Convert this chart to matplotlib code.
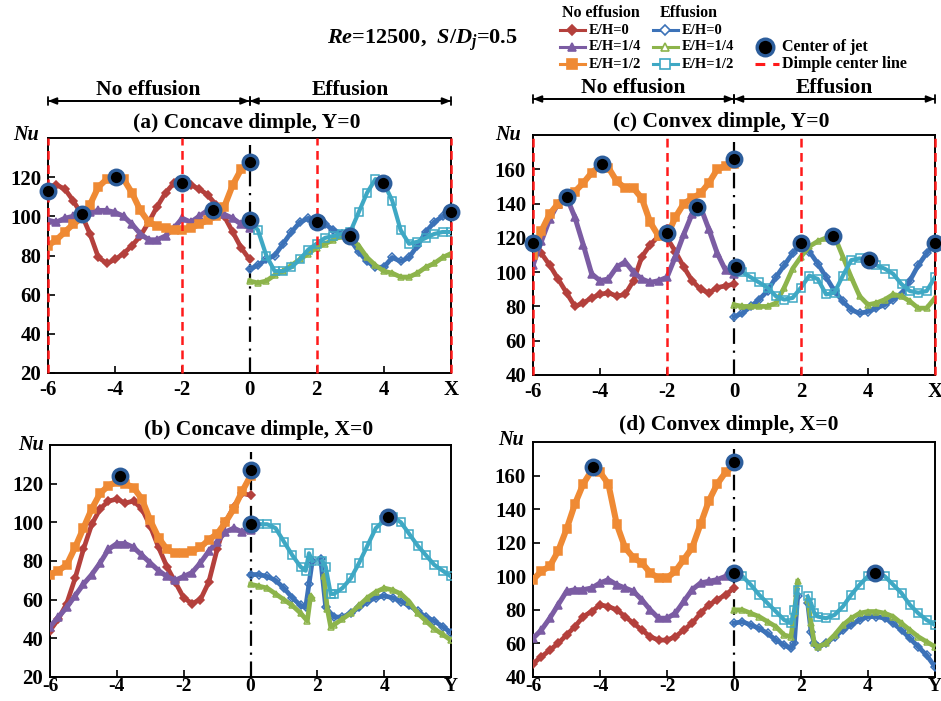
import numpy as np
import matplotlib.pyplot as plt

plt.rcParams["font.family"] = ["Liberation Serif", "DejaVu Serif"]
plt.rcParams["font.weight"] = "bold"
plt.rcParams["mathtext.fontset"] = "custom"
plt.rcParams["mathtext.rm"] = "Liberation Serif:bold"
plt.rcParams["mathtext.it"] = "Liberation Serif:italic:bold"
plt.rcParams["mathtext.bf"] = "Liberation Serif:bold"

W, H = 941, 701
nan = np.nan

# sampling positions along the dimple centre lines
x_ne = np.arange(-6, 0.01, 0.25)   # no-effusion half
x_ef = np.arange(0, 6.01, 0.25)    # effusion half (full rows)

# ---- (a) concave dimple, Y=0 ----
a_ne_0 = [115, 116, 114, 108, 101, 91, 79, 76, 78, 81, 85, 90, 97, 105, 112, 117,
          118, 116, 114, 111, 106, 100, 92, 84, 78]
a_ne_14 = [98, 97, 99, 100, 101, 102, 103, 103, 102, 100, 96, 91, 88, 88, 90, 94,
           99, 97, 100, 103, 103, 101, 99, 96, 94]
a_ne_12 = [85, 88, 92, 96, 99, 106, 115, 119, 120, 119, 112, 103, 97, 95, 94, 93,
           93, 94, 96, 98, 100, 105, 116, 124, 127]
a_ef_0 = [73, 75, 78, 80, 86, 92, 97, 99, 98, 96, 93, 91, 88, 82, 77, 74, 74, 79,
          77, 79, 85, 92, 97, 100, 102]
a_ef_14 = [67, 66, 67, 70, 72, 75, 78, 81, 84, 86, 88, 90, 89, 85, 79, 75, 72, 71,
           69, 69, 71, 74, 76, 79, 81]
a_ef_12 = [98, 93, 80, 72, 72, 74, 78, 83, 86, 89, 90, 91, 92, 102, 112, 119, 117,
           108, 93, 86, 87, 89, 91, 92, 92]
a_jet_x = [-6, -5, -3.97, -2, -1.1, 0, 0, 2.02, 3.0, 3.97, 6]
a_jet_y = [113, 101, 120, 117, 103, 128, 98, 97, 90, 117, 102]

# ---- (c) convex dimple, Y=0 ----
c_ne_0 = [116, 111, 104, 96, 88, 80, 82, 85, 87, 88, 86, 87, 95, 109, 116, 121,
          120, 112, 103, 95, 90, 88, 91, 92, 93]
c_ne_14 = [104, 118, 131, 140, 144, 132, 116, 99, 95, 96, 103, 106, 100, 96, 94,
           95, 97, 109, 122, 134, 138, 125, 111, 101, 99]
c_ne_12 = [110, 124, 134, 140, 144, 147, 152, 158, 162, 161, 153, 149, 149, 143,
           129, 121, 121, 132, 140, 143, 146, 152, 160, 162, 163]
c_ef_0 = [74, 76, 80, 84, 89, 97, 104, 111, 116, 112, 105, 97, 89, 83, 78, 76, 77,
          79, 81, 84, 87, 95, 104, 111, 117]
c_ef_14 = [81, 80, 80, 80, 80, 82, 91, 102, 109, 115, 118, 120, 121, 109, 97, 86,
           81, 82, 84, 87, 86, 83, 79, 79, 85]
c_ef_12 = [103, 100, 97, 94, 91, 86, 84, 85, 91, 98, 96, 87, 88, 98, 107, 108, 107,
           104, 102, 99, 93, 89, 88, 89, 97]
c_jet_x = [-6, -5, -3.94, -2, -1.09, 0, 0.07, 2, 2.96, 4.04, 6]
c_jet_y = [117, 144, 163, 123, 138, 166, 103, 117, 121, 107, 117]

# ---- (b) concave dimple, X=0 ----
b_ne_0 = [44, 50, 58, 71, 86, 99, 107, 111, 112, 110, 111, 107, 98, 87, 77, 69,
          61, 58, 60, 69, 86, 100, 108, 115, 114]
b_ne_14 = [46, 51, 56, 62, 68, 73, 79, 86, 89, 89, 87, 83, 79, 75, 72, 70, 72, 74,
           79, 85, 90, 95, 97, 95, 96]
b_ne_12 = [73, 75, 78, 87, 97, 107, 115, 119, 121, 120, 118, 112, 101, 92, 86, 84,
           84, 85, 87, 91, 94, 100, 107, 116, 124]
b_ef_0_x = [0, 0.25, 0.5, 0.75, 1.0, 1.25, 1.5, 1.65, 1.75, 1.85, 2.0, 2.1, 2.25,
            2.5, 2.75, 3.0, 3.25, 3.5, 3.75, 4.0, 4.25, 4.5, 4.75, 5.0, 5.25, 5.5,
            5.75, 6.0]
b_ef_0 = [73, 73, 72, 70, 66, 61, 57, 56, 68, 80, nan, 81, 56, 51, 51, 53, 56, 59,
          61, 62, 61, 59, 57, 54, 51, 49, 46, 43]
b_ef_14_x = [0, 0.25, 0.5, 0.75, 1.0, 1.25, 1.5, 1.7, 1.8, 1.85, 2.0, 2.2, 2.3,
             2.4, 2.5, 2.75, 3.0, 3.25, 3.5, 3.75, 4.0, 4.25, 4.5, 4.75, 5.0, 5.25,
             5.5, 5.75, 6.0]
b_ef_14 = [68, 67, 66, 63, 60, 57, 53, 49, 62, 61, nan, 72, 55, 46, 47, 50, 53, 57,
           61, 64, 66, 65, 63, 59, 53, 49, 45, 42, 39]
b_ef_12_x = [0, 0.25, 0.5, 0.75, 1.0, 1.25, 1.5, 1.65, 1.75, 1.85, 2.0, 2.15, 2.25,
             2.4, 2.5, 2.75, 3.0, 3.25, 3.5, 3.75, 4.0, 4.25, 4.5, 4.75, 5.0, 5.25,
             5.5, 5.75, 6.0]
b_ef_12 = [99, 99, 99, 97, 90, 83, 77, 75, 84, 80, nan, 80, 77, 63, 63, 66, 71, 79,
           88, 97, 101, 103, 100, 94, 88, 83, 78, 75, 72]
b_jet_x = [-3.9, 0, 0, 4.1]
b_jet_y = [124, 127, 99, 103]

# ---- (d) convex dimple, X=0 ----
d_ne_0 = [48, 52, 56, 60, 65, 70, 76, 79, 83, 82, 80, 76, 72, 68, 64, 62, 62, 64,
          68, 72, 78, 83, 86, 89, 93]
d_ne_14 = [63, 68, 75, 83, 91, 92, 92, 93, 96, 98, 95, 93, 91, 86, 80, 75, 75, 78,
           85, 92, 96, 97, 98, 100, 102]
d_ne_12 = [98, 103, 106, 115, 128, 143, 155, 163, 162, 155, 131, 117, 111, 108,
           102, 99, 99, 103, 110, 117, 131, 145, 155, 162, 166]
d_ef_x = [0, 0.25, 0.5, 0.75, 1.0, 1.25, 1.5, 1.7, 1.8, 1.9, 2.05, 2.2, 2.3, 2.4,
          2.5, 2.75, 3.0, 3.25, 3.5, 3.75, 4.0, 4.25, 4.5, 4.75, 5.0, 5.25, 5.5,
          5.75, 6.0]
d_ef_0 = [72, 73, 71, 69, 66, 62, 59, 57, 60, 88, nan, 84, 67, 60, 58, 60, 64, 68,
          71, 74, 76, 76, 75, 72, 68, 63, 58, 53, 46]
d_ef_14 = [80, 80, 78, 76, 73, 70, 65, 64, 78, 97, nan, 86, 72, 60, 58, 60, 65, 71,
           75, 78, 79, 79, 78, 76, 72, 68, 64, 61, 58]
d_ef_12 = [102, 100, 95, 89, 84, 79, 74, 72, 80, 92, nan, 88, 84, 78, 76, 75, 77,
           82, 89, 95, 100, 102, 100, 95, 90, 83, 78, 74, 71]
d_jet_x = [-4.2, 0, 0, 4.2]
d_jet_y = [165, 168, 102, 102]

RED = "#b4403c"
PURPLE = "#7b5ca3"
ORANGE = "#ef8a34"
BLUE = "#3c72b8"
GREEN = "#8db44b"
CYAN = "#3ea8c4"
JET_EDGE = "#2d5e9c"

# colour, marker, filled, marker size, line width
STYLE = {
    "ne0": (RED, "D", True, 4.5, 3.4),
    "ne14": (PURPLE, "^", True, 5.5, 3.6),
    "ne12": (ORANGE, "s", True, 6.0, 4.4),
    "ef0": (BLUE, "D", False, 4.5, 3.4),
    "ef14": (GREEN, "^", False, 5.0, 3.4),
    "ef12": (CYAN, "s", False, 6.0, 3.0),
}


def px_axes(left, top, right, bottom):
    return [left / W, 1 - bottom / H, (right - left) / W, (bottom - top) / H]


def draw_panel(ax, curves, jets, ylim, last_label, dimple, xpad=5, xsize=15):
    for key, x, y in curves:
        color, marker, filled, ms, lw = STYLE[key]
        ax.plot(x, y, color=color, lw=lw, marker=marker, ms=ms,
                mfc=color if filled else "none", mec=color, mew=1.1, zorder=3)
    ax.plot(jets[0], jets[1], "o", ms=10.5, mfc="black", mec=JET_EDGE, mew=2.4,
            zorder=6, clip_on=False)
    if dimple:
        for xv in (-6, -2, 2, 6):
            ax.axvline(xv, color="#ff1a1a", lw=1.8, ls=(0, (3.5, 2.2)), zorder=4,
                       clip_on=False)
    ax.axvline(0, ymax=0.97, color="black", lw=1.6,
               ls=(0, (7, 3, 1, 3)), zorder=2.6)
    ax.set_xlim(-6, 6)
    ax.set_ylim(*ylim)
    ax.set_xticks([-6, -4, -2, 0, 2, 4, 6])
    ax.set_xticklabels(["-6", "-4", "-2", "0", "2", "4", last_label])
    ax.set_yticks(np.arange(ylim[0], ylim[1], 20))
    ax.tick_params(direction="in", length=5, width=1.2, labelsize=15, pad=5)
    ax.tick_params(axis="x", pad=xpad, labelsize=xsize)
    for sp in ax.spines.values():
        sp.set_linewidth(1.4)


def span_arrows(ax, y_arrow, y_text):
    for x0, x1, label in ((-6, 0, "No effusion"), (0, 6, "Effusion")):
        ax.annotate("", xy=(x1, y_arrow), xytext=(x0, y_arrow),
                    xycoords=("data", "axes fraction"),
                    textcoords=("data", "axes fraction"),
                    arrowprops=dict(arrowstyle="<|-|>,head_length=0.5,head_width=0.2",
                                    color="black", lw=1.3, shrinkA=0, shrinkB=0))
        ax.annotate("", xy=(x1, y_arrow), xytext=(x0, y_arrow),
                    xycoords=("data", "axes fraction"),
                    textcoords=("data", "axes fraction"),
                    arrowprops=dict(arrowstyle="|-|,widthA=0.3,widthB=0.3",
                                    color="black", lw=1.3, shrinkA=0, shrinkB=0))
        ax.text((x0 + x1) / 2, y_text, label, transform=ax.get_xaxis_transform(),
                ha="center", va="center", fontsize=15.5, fontweight="bold")


def ftext(x, y, s, **kw):
    fig.text(x / W, 1 - y / H, s, **kw)


fig = plt.figure(figsize=(W / 100, H / 100), dpi=100, facecolor="white")

ax_a = fig.add_axes(px_axes(48, 138, 451, 373))
ax_c = fig.add_axes(px_axes(533, 135, 935, 375))
ax_b = fig.add_axes(px_axes(50, 445, 451, 677))
ax_d = fig.add_axes(px_axes(533, 442, 935, 677))

draw_panel(ax_a, [("ne0", x_ne, a_ne_0), ("ne14", x_ne, a_ne_14), ("ne12", x_ne, a_ne_12),
                  ("ef0", x_ef, a_ef_0), ("ef14", x_ef, a_ef_14), ("ef12", x_ef, a_ef_12)],
           (a_jet_x, a_jet_y), (20, 140), "X", True)
draw_panel(ax_c, [("ne0", x_ne, c_ne_0), ("ne14", x_ne, c_ne_14), ("ne12", x_ne, c_ne_12),
                  ("ef0", x_ef, c_ef_0), ("ef14", x_ef, c_ef_14), ("ef12", x_ef, c_ef_12)],
           (c_jet_x, c_jet_y), (40, 180), "X", True)
# bottom row: labels sit tight against the lower figure edge
draw_panel(ax_b, [("ne0", x_ne, b_ne_0), ("ne14", x_ne, b_ne_14), ("ne12", x_ne, b_ne_12),
                  ("ef0", b_ef_0_x, b_ef_0), ("ef14", b_ef_14_x, b_ef_14),
                  ("ef12", b_ef_12_x, b_ef_12)],
           (b_jet_x, b_jet_y), (20, 140), "Y", False, xpad=1, xsize=14)
draw_panel(ax_d, [("ne0", x_ne, d_ne_0), ("ne14", x_ne, d_ne_14), ("ne12", x_ne, d_ne_12),
                  ("ef0", d_ef_x, d_ef_0), ("ef14", d_ef_x, d_ef_14),
                  ("ef12", d_ef_x, d_ef_12)],
           (d_jet_x, d_jet_y), (40, 180), "Y", False, xpad=1, xsize=14)

span_arrows(ax_a, 1 + 37 / 235, 1 + 48 / 235)
span_arrows(ax_c, 1 + 36 / 240, 1 + 47 / 240)

# panel titles and Nu labels
title_kw = dict(ha="center", va="center", fontsize=15.5, fontweight="bold")
ftext(247, 123, "(a) Concave dimple, Y=0", **title_kw)
ftext(721, 122, "(c) Convex dimple, Y=0", **title_kw)
ftext(259, 430, "(b) Concave dimple, X=0", **title_kw)
ftext(729, 425, "(d) Convex dimple, X=0", **title_kw)
nu_kw = dict(ha="center", va="center", fontsize=14.5, fontweight="bold", style="italic")
for xp, yp in ((26, 135), (508, 135), (31, 445), (511, 440)):
    ftext(xp, yp, "Nu", **nu_kw)

ftext(422, 40, r"$\mathit{Re}$=12500,  $\mathit{S/D_j}$=0.5",
      ha="center", va="center", fontsize=16, fontweight="bold")

# legend, drawn in figure pixels
lg = fig.add_axes([0, 0, 1, 1], facecolor="none")
lg.set_xlim(0, W)
lg.set_ylim(H, 0)
lg.axis("off")
leg_kw = dict(va="center", fontsize=11.5, fontweight="bold")
lg.text(562, 13, "No effusion", **leg_kw)
lg.text(660, 13, "Effusion", **leg_kw)
rows = (("E/H=0", "ne0", "ef0", 30), ("E/H=1/4", "ne14", "ef14", 47),
        ("E/H=1/2", "ne12", "ef12", 64))
for label, k1, k2, yy in rows:
    for key, x0 in ((k1, 560), (k2, 653)):
        color, marker, filled, ms, lw = STYLE[key]
        lg.plot([x0, x0 + 25], [yy, yy], color=color, lw=2.2)
        lg.plot([x0 + 12.5], [yy], marker=marker, ms=ms + 0.5, color=color,
                mfc=color if filled else "white", mec=color, mew=1.2)
        lg.text(x0 + 29, yy, label, fontsize=10.5, va="center", fontweight="bold")
lg.plot([765], [47], "o", ms=12, mfc="black", mec=JET_EDGE, mew=2.4)
lg.text(782, 47, "Center of jet", **leg_kw)
lg.plot([755, 779], [64, 64], color="#ff1a1a", lw=2.2, ls=(0, (3.2, 2.6)))
lg.text(782, 64, "Dimple center line", **leg_kw)

fig.savefig("out.png", dpi=100, facecolor="white")
